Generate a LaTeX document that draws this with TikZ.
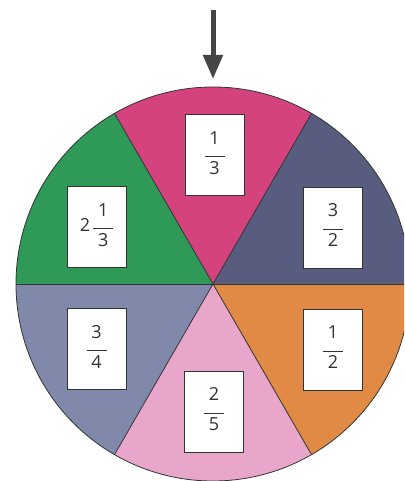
\documentclass[tikz,border=0pt]{standalone}
\usepackage{fontspec}
\setmainfont{Open Sans}
\usepackage{tikz}
\usetikzlibrary{arrows.meta, positioning, calc}

\definecolor{pinkA}{HTML}{D4437E}
\definecolor{navyA}{HTML}{585D7F}
\definecolor{greenA}{HTML}{2F9A57}
\definecolor{greyA}{HTML}{8189AA}
\definecolor{rosaA}{HTML}{E9A6CB}
\definecolor{orangeA}{HTML}{E08A45}
\definecolor{inkA}{HTML}{333333}
\definecolor{arrowA}{HTML}{454545}

% stacked fraction with a short bar
\newcommand{\fr}[2]{\begin{tabular}{@{}c@{}}#1\\[-3pt]\rule[4pt]{20pt}{1pt}\\[-7pt]#2\end{tabular}}

\tikzset{
    card/.style={draw=inkA, line width=1pt, fill=white, minimum width=59, minimum height=81,
        inner sep=0pt, text=inkA, font=\fontsize{18}{20}\selectfont},
    spoke/.style={draw=inkA, line width=0.8pt},
    pointer/.style={draw=arrowA, line width=5pt, -{Triangle[width=19pt,length=24pt]}}
}

\begin{document}
\begin{tikzpicture}[x=1pt, y=1pt]
    \useasboundingbox (0,0) rectangle (404,481);
    \fill[white] (0,0) rectangle (404,481);
    \clip (0,0) rectangle (404,481);

    % centre of the spinner
    \coordinate (c) at (213,197);

    % six sectors
    \fill[navyA] (c) -- ++(0:197) arc[start angle=0, end angle=60, radius=197] -- cycle;
    \fill[pinkA] (c) -- ++(60:197) arc[start angle=60, end angle=120, radius=197] -- cycle;
    \fill[greenA] (c) -- ++(120:197) arc[start angle=120, end angle=180, radius=197] -- cycle;
    \fill[greyA] (c) -- ++(180:197) arc[start angle=180, end angle=240, radius=197] -- cycle;
    \fill[rosaA] (c) -- ++(240:197) arc[start angle=240, end angle=300, radius=197] -- cycle;
    \fill[orangeA] (c) -- ++(300:197) arc[start angle=300, end angle=360, radius=197] -- cycle;

    % spokes and rim
    \foreach \a in {0,60,...,300}
        \draw[spoke] (c) -- ++(\a:197);
    \draw[spoke] (c) circle (197);

    % fraction cards
    \node[card] (third) at (214.5,325.5) {\fr{1}{3}};
    \node[card] (threehalves) at (333,253) {\fr{3}{2}};
    \node[card] (mixed) at (96.5,253.5) {2\,\fr{1}{3}};
    \node[card] (threequarters) at (96.5,131.5) {\fr{3}{4}};
    \node[card] (twofifths) at (214,69) {\fr{2}{5}};
    \node[card] (half) at (333,131) {\fr{1}{2}};

    % pointer
    \coordinate (ptrtop) at (213,471);
    \coordinate (ptrtip) at (213,402);
    \draw[pointer] (ptrtop) -- (ptrtip);
\end{tikzpicture}
\end{document}
